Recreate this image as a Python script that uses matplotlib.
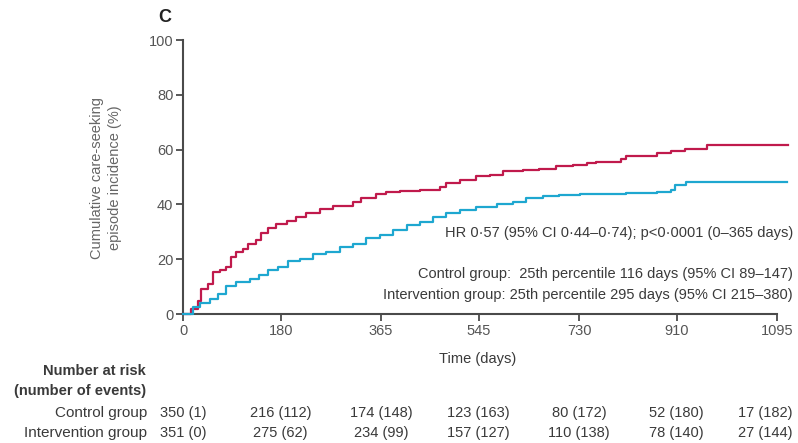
import matplotlib
matplotlib.use("Agg")
import matplotlib.pyplot as plt
from matplotlib import font_manager

fams = [f.name for f in font_manager.fontManager.ttflist]
main_font = 'Liberation Sans Narrow' if 'Liberation Sans Narrow' in fams else 'Liberation Sans'
plt.rcParams['font.family'] = [main_font, 'DejaVu Sans']

# ---- data ----
control_days = [0, 15, 28, 34, 46, 55, 68, 80, 89, 98, 111, 120, 135, 144, 157, 172, 191, 209, 227,
                252, 276, 313, 329, 356, 375, 400, 436, 473, 485, 510, 541, 565, 590, 627, 657, 688,
                719, 744, 762, 799, 808, 817, 873, 900, 925, 965, 1116]
control_pct = [0, 1.8, 4.9, 9.2, 11.0, 15.3, 16.2, 17.1, 20.8, 22.6, 23.9, 25.7, 26.9, 29.4, 31.3,
               32.7, 34.0, 35.5, 36.8, 38.2, 39.4, 41.0, 42.3, 43.9, 44.5, 44.9, 45.3, 46.5, 47.8,
               49.0, 50.2, 50.8, 52.1, 52.7, 53.0, 53.9, 54.5, 55.0, 55.3, 55.5, 56.6, 57.6, 58.6,
               59.4, 60.4, 61.5, 61.5]

interv_days = [0, 18, 31, 49, 64, 80, 98, 123, 141, 157, 175, 193, 215, 240, 264, 289, 313, 338,
               363, 387, 412, 436, 461, 485, 510, 541, 578, 608, 633, 664, 694, 731, 817, 873, 900,
               906, 928, 1113]
interv_pct = [0, 2.4, 3.9, 5.5, 7.4, 10.4, 11.6, 12.9, 14.1, 15.9, 17.1, 19.2, 20.2, 21.8, 22.6,
              24.5, 25.7, 27.6, 29.0, 30.6, 32.5, 33.7, 35.5, 36.8, 38.0, 39.2, 40.2, 41.0, 42.3,
              42.9, 43.5, 43.9, 44.1, 44.7, 45.3, 47.2, 48.2, 48.2]

x_ticks = [0, 180, 365, 545, 730, 910, 1095]
y_ticks = [0, 20, 40, 60, 80, 100]

control_at_risk = ["350 (1)", "216 (112)", "174 (148)", "123 (163)", "80 (172)", "52 (180)", "17 (182)"]
interv_at_risk = ["351 (0)", "275 (62)", "234 (99)", "157 (127)", "110 (138)", "78 (140)", "27 (144)"]

RED = '#c01a4c'
BLUE = '#1ea7d0'
TXT = '#3a3a3a'
AX = '#4a4a4a'

W, H = 798, 443
fig = plt.figure(figsize=(W / 100, H / 100), dpi=100)
x0, x1 = 183, 790.6
y0, y1 = 314, 40
ax = fig.add_axes([x0 / W, 1 - y0 / H, (x1 - x0) / W, (y0 - y1) / H])
ax.set_xlim(0, 1120)
ax.set_ylim(0, 100)

ax.step(control_days, control_pct, where='post', color=RED, lw=1.6, zorder=3, clip_on=False)
ax.step(interv_days, interv_pct, where='post', color=BLUE, lw=1.6, zorder=3, clip_on=False)

for s in ['top', 'right']:
    ax.spines[s].set_visible(False)
for s in ['left', 'bottom']:
    ax.spines[s].set_color(AX)
    ax.spines[s].set_linewidth(1.5)
ax.spines['bottom'].set_bounds(0, 1095)
ax.spines['left'].set_bounds(0, 100)
ax.set_xticks(x_ticks)
ax.set_yticks(y_ticks)
ax.tick_params(axis='both', direction='out', length=5, width=1.3, color=AX,
               labelsize=10.5, labelcolor='#555555', pad=2)

fig.text(165 / W, 1 - 18 / H, "C", fontsize=13, fontweight='bold', color='#222222',
         ha='center', va='center')
fig.text(106 / W, 1 - 178 / H, "Cumulative care-seeking\nepisode incidence (%)", rotation=90,
         ha='center', va='center', fontsize=10.5, color='#666666', linespacing=1.35)

fig.text(793 / W, 1 - 233 / H, "HR 0·57 (95% CI 0·44–0·74); p<0·0001 (0–365 days)",
         ha='right', va='center', fontsize=10.5, color=TXT)
fig.text(793 / W, 1 - 274 / H, "Control group:  25th percentile 116 days (95% CI 89–147)",
         ha='right', va='center', fontsize=10.5, color=TXT)
fig.text(793 / W, 1 - 295 / H, "Intervention group: 25th percentile 295 days (95% CI 215–380)",
         ha='right', va='center', fontsize=10.5, color=TXT)

fig.text(478 / W, 1 - 359 / H, "Time (days)", ha='center', va='center', fontsize=10.5, color=TXT)

fig.text(146 / W, 1 - 371 / H, "Number at risk", ha='right', va='center', fontsize=10.5,
         fontweight='bold', color=TXT)
fig.text(146 / W, 1 - 391 / H, "(number of events)", ha='right', va='center', fontsize=10.5,
         fontweight='bold', color=TXT)
fig.text(147 / W, 1 - 413 / H, "Control group", ha='right', va='center', fontsize=11, color=TXT)
fig.text(147 / W, 1 - 433 / H, "Intervention group", ha='right', va='center', fontsize=11, color=TXT)

for i, (xv, c, iv) in enumerate(zip(x_ticks, control_at_risk, interv_at_risk)):
    if i == len(x_ticks) - 1:
        xd, ha = 793, 'right'
    else:
        xd, ha = 183 + xv * (x1 - x0) / 1120, 'center'
    fig.text(xd / W, 1 - 413 / H, c, ha=ha, va='center', fontsize=10.5, color=TXT)
    fig.text(xd / W, 1 - 433 / H, iv, ha=ha, va='center', fontsize=10.5, color=TXT)

fig.savefig("out.png", dpi=100)
